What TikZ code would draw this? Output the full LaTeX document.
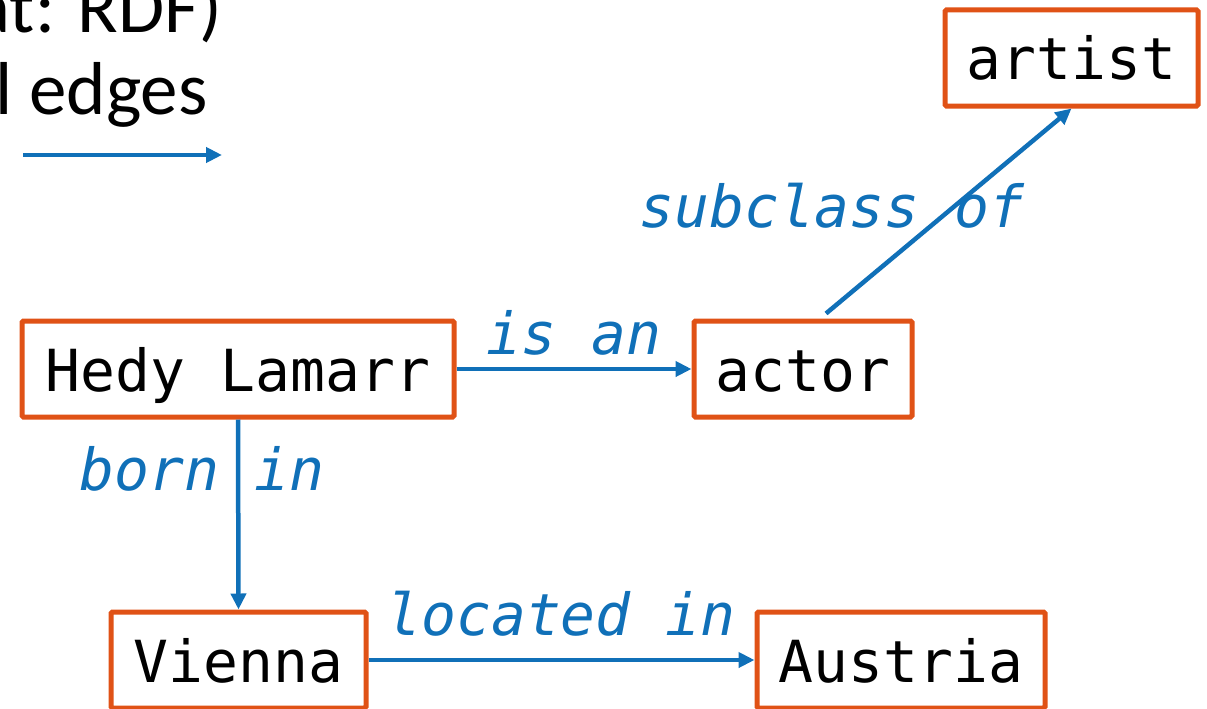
\documentclass[tikz,border=0pt]{standalone}
\usepackage{fontspec}
\setmainfont{Carlito}
\setmonofont{DejaVu Sans Mono}
\usetikzlibrary{arrows.meta}
\definecolor{boxorange}{RGB}{224,82,22}
\definecolor{edgeblue}{RGB}{16,112,184}
\tikzset{
  entity/.style={draw=boxorange, line width=5pt, rounded corners=1.5pt, fill=white,
    inner sep=0pt, minimum height=96pt, text height=44pt, text depth=0pt,
    font=\fontsize{58}{60}\selectfont\ttfamily, text=black},
  rel/.style={draw=edgeblue, line width=4.5pt, -{Triangle[length=16pt,width=15pt]}},
  rellabel/.style={anchor=base, inner sep=0pt, text=edgeblue,
    font=\fontsize{58}{60}\selectfont\ttfamily\itshape},
  toptext/.style={inner sep=0pt, text=black, font=\fontsize{75}{80}\selectfont}
}
\begin{document}
\begin{tikzpicture}[x=1pt,y=-1pt]
\useasboundingbox (0,0) rectangle (1207,709);
\clip (0,0) rectangle (1207,709);
% heading fragments
\node[toptext, anchor=base east] (t1) at (222,33) {at: RDF)};
\node[toptext, anchor=base west] (t2) at (-5,114) {l edges};
\coordinate (la) at (23,155);
\coordinate (lb) at (222,155);
\draw[rel] (la) -- (lb);
% entities
\node[entity, minimum width=432pt] (hedy) at (238,369) {Hedy Lamarr};
\node[entity, minimum width=218pt] (actor) at (803,369) {actor};
\node[entity, minimum width=253pt] (artist) at (1071.5,58) {artist};
\node[entity, minimum width=255pt] (vienna) at (238.5,660) {Vienna};
\node[entity, minimum width=288pt] (austria) at (901,660) {Austria};
% relations
\draw[rel] (hedy.east) -- (actor.west);
\draw[rel] (hedy.south) -- (vienna.north);
\draw[rel] (vienna.east) -- (austria.west);
\draw[rel] ([xshift=23pt,yshift=5pt]actor.north) -- (artist.south);
% labels
\node[rellabel] (lisan) at (574,354) {is an};
\node[rellabel] (lborn) at (202,490) {born in};
\node[rellabel] (lsub) at (832,227) {subclass of};
\node[rellabel] (lloc) at (561,635) {located in};
\end{tikzpicture}
\end{document}
